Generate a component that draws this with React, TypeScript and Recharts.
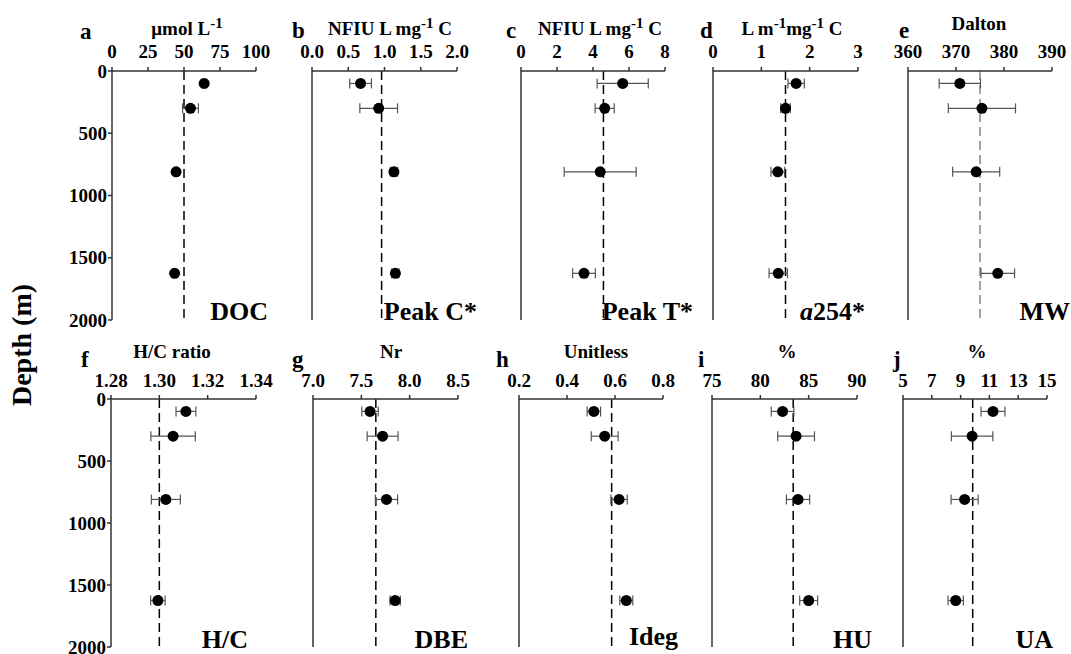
import React from 'react';
import {
  ErrorBar,
  ReferenceLine,
  Scatter,
  ScatterChart,
  XAxis,
  YAxis
} from 'recharts';

// sampling depths (m)
const depths = [100, 300, 810, 1625];
const depthTicks = [0, 500, 1000, 1500, 2000];

const docValues = [64, 54.5, 44.5, 43.5];
const docErrors = [1.5, 5.5, 1, 1];
const peakCValues = [0.67, 0.92, 1.13, 1.15];
const peakCErrors = [0.15, 0.26, 0.05, 0.05];
const peakTValues = [5.65, 4.65, 4.4, 3.5];
const peakTErrors = [1.42, 0.53, 2.0, 0.63];
const a254Values = [1.72, 1.5, 1.34, 1.35];
const a254Errors = [0.17, 0.1, 0.14, 0.19];
const mwValues = [370.8, 375.4, 374.2, 378.7];
const mwErrors = [4.3, 7.0, 4.9, 3.5];
const hcValues = [1.311, 1.3057, 1.3027, 1.2994];
const hcErrors = [0.0041, 0.0092, 0.006, 0.003];
const dbeValues = [7.59, 7.72, 7.76, 7.85];
const dbeErrors = [0.085, 0.16, 0.115, 0.054];
const idegValues = [0.512, 0.557, 0.617, 0.647];
const idegErrors = [0.028, 0.056, 0.034, 0.027];
const huValues = [82.3, 83.7, 83.9, 85.0];
const huErrors = [1.17, 1.9, 1.2, 0.93];
const uaValues = [11.25, 9.8, 9.28, 8.66];
const uaErrors = [0.83, 1.44, 0.94, 0.53];

// dashed line = mean of the deep water
const refMeans = [50, 0.96, 4.58, 1.5, 375, 1.3, 7.65, 0.586, 83.4, 9.84];

const docTicks = [0, 25, 50, 75, 100];
const peakCTicks = [0, 0.5, 1, 1.5, 2];
const peakTTicks = [0, 2, 4, 6, 8];
const a254Ticks = [0, 1, 2, 3];
const mwTicks = [360, 370, 380, 390];
const hcTicks = [1.28, 1.3, 1.32, 1.34];
const dbeTicks = [7, 7.5, 8, 8.5];
const idegTicks = [0.2, 0.4, 0.6, 0.8];
const huTicks = [75, 80, 85, 90];
const uaTicks = [5, 7, 9, 11, 13, 15];

const FONT = '"Liberation Serif", "Times New Roman", serif';
const AXIS = '#333';
const YW = 60;
const XH = 45;
const RM = 26;
const rowTop = [71, 399];
const rowH = [249, 248];

interface PanelProps {
  left: number;
  right: number;
  row: number;
  values: number[];
  errors: number[];
  ticks: number[];
  decimals: number;
  refValue: number;
  showDepth?: boolean;
  refColor?: string;
}

const Dot = (props: any) => <circle cx={props.cx} cy={props.cy} r={5.5} fill="#000" />;

const Panel: React.FC<PanelProps> = ({ left, right, row, values, errors, ticks, decimals, refValue, showDepth, refColor }) => {
  const plotW = right - left;
  const data = depths.map((d, i) => ({ x: values[i], y: d, err: errors[i] }));
  return (
    <div style={{ position: 'absolute', left: left - YW, top: rowTop[row] - XH }}>
      <ScatterChart
        width={YW + plotW + RM}
        height={XH + rowH[row] + 14}
        margin={{ top: 0, right: RM, bottom: 14, left: 0 }}
      >
        <XAxis
          type="number"
          dataKey="x"
          orientation="top"
          height={XH}
          domain={[ticks[0], ticks[ticks.length - 1]]}
          ticks={ticks}
          interval={0}
          allowDataOverflow
          tickFormatter={(v) => Number(v).toFixed(decimals)}
          tick={{ fontSize: 19, fontWeight: 'bold', fill: '#000', fontFamily: FONT }}
          tickSize={4}
          tickMargin={row === 0 ? 9 : 8}
          axisLine={{ stroke: AXIS, strokeWidth: 1.5 }}
          tickLine={{ stroke: AXIS, strokeWidth: 1.5 }}
        />
        <YAxis
          type="number"
          dataKey="y"
          width={YW}
          reversed
          domain={[0, 2000]}
          ticks={depthTicks}
          interval={0}
          tick={showDepth ? { fontSize: 19, fontWeight: 'bold', fill: '#000', fontFamily: FONT } : false}
          tickSize={4}
          tickMargin={1}
          axisLine={{ stroke: AXIS, strokeWidth: 1.5 }}
          tickLine={{ stroke: AXIS, strokeWidth: 1.5 }}
        />
        <ReferenceLine
          x={refValue}
          stroke={refColor || '#000'}
          strokeWidth={refColor ? 1.2 : 1.5}
          strokeDasharray="9 5"
        />
        <Scatter data={data} shape={Dot} isAnimationActive={false}>
          <ErrorBar dataKey="err" direction="x" width={5} stroke="#555" strokeWidth={1.2} />
        </Scatter>
      </ScatterChart>
    </div>
  );
};

const Sup: React.FC<{ t: string }> = ({ t }) => (
  <>
    <tspan dy={-7} fontSize={15}>{t}</tspan>
    <tspan dy={7}> </tspan>
  </>
);

const App: React.FC = () => {
  const txt = { fontFamily: FONT, fontWeight: 'bold' as const, fill: '#000' };
  return (
    <div style={{ position: 'absolute', left: 0, top: 0, width: 1071, height: 654, background: '#fff', overflow: 'hidden' }}>
      <Panel left={112} right={256} row={0} values={docValues} errors={docErrors} ticks={docTicks} decimals={0} refValue={refMeans[0]} showDepth />
      <Panel left={312} right={457} row={0} values={peakCValues} errors={peakCErrors} ticks={peakCTicks} decimals={1} refValue={refMeans[1]} />
      <Panel left={521} right={665} row={0} values={peakTValues} errors={peakTErrors} ticks={peakTTicks} decimals={0} refValue={refMeans[2]} />
      <Panel left={713} right={858} row={0} values={a254Values} errors={a254Errors} ticks={a254Ticks} decimals={0} refValue={refMeans[3]} />
      <Panel left={908} right={1052} row={0} values={mwValues} errors={mwErrors} ticks={mwTicks} decimals={0} refValue={refMeans[4]} refColor="#666" />
      <Panel left={111} right={256} row={1} values={hcValues} errors={hcErrors} ticks={hcTicks} decimals={2} refValue={refMeans[5]} showDepth />
      <Panel left={313} right={458} row={1} values={dbeValues} errors={dbeErrors} ticks={dbeTicks} decimals={1} refValue={refMeans[6]} />
      <Panel left={519} right={663} row={1} values={idegValues} errors={idegErrors} ticks={idegTicks} decimals={1} refValue={refMeans[7]} />
      <Panel left={712} right={857} row={1} values={huValues} errors={huErrors} ticks={huTicks} decimals={0} refValue={refMeans[8]} />
      <Panel left={903} right={1047} row={1} values={uaValues} errors={uaErrors} ticks={uaTicks} decimals={0} refValue={refMeans[9]} />

      <svg width={1071} height={654} style={{ position: 'absolute', left: 0, top: 0, pointerEvents: 'none' }}>
        <text x={25} y={345} fontSize={28} textAnchor="middle" dominantBaseline="middle" transform="rotate(-90 25 345)" {...txt}>
          Depth (m)
        </text>

        {/* panel letters */}
        <g fontSize={23} {...txt}>
          <text x={80} y={39}>a</text>
          <text x={292} y={38}>b</text>
          <text x={506} y={38}>c</text>
          <text x={700} y={38}>d</text>
          <text x={899} y={38}>e</text>
          <text x={81} y={367}>f</text>
          <text x={292} y={367}>g</text>
          <text x={496} y={367}>h</text>
          <text x={698} y={367}>i</text>
          <text x={893} y={367}>j</text>
        </g>

        {/* units */}
        <g fontSize={19} textAnchor="middle" {...txt}>
          <text x={187} y={35}>μmol L<Sup t="-1" /></text>
          <text x={390} y={35}>NFIU L mg<Sup t="-1" />C</text>
          <text x={600} y={35}>NFIU L mg<Sup t="-1" />C</text>
          <text x={792} y={35}>L m<tspan dy={-7} fontSize={15}>-1</tspan><tspan dy={7}>mg</tspan><Sup t="-1" />C</text>
          <text x={979} y={30}>Dalton</text>
          <text x={172} y={358}>H/C ratio</text>
          <text x={391} y={358}>Nr</text>
          <text x={596} y={358}>Unitless</text>
          <text x={787} y={358}>%</text>
          <text x={977} y={358}>%</text>
        </g>

        {/* parameter names */}
        <g fontSize={26} textAnchor="end" {...txt}>
          <text x={268} y={320}>DOC</text>
          <text x={477} y={320}>Peak C*</text>
          <text x={693} y={320}>Peak T*</text>
          <text x={865} y={320}><tspan fontStyle="italic">a</tspan>254*</text>
          <text x={1070} y={320}>MW</text>
          <text x={248} y={648}>H/C</text>
          <text x={468} y={648}>DBE</text>
          <text x={678} y={645}>Ideg</text>
          <text x={872} y={648}>HU</text>
          <text x={1053} y={648}>UA</text>
        </g>
      </svg>
    </div>
  );
};

export default App;
